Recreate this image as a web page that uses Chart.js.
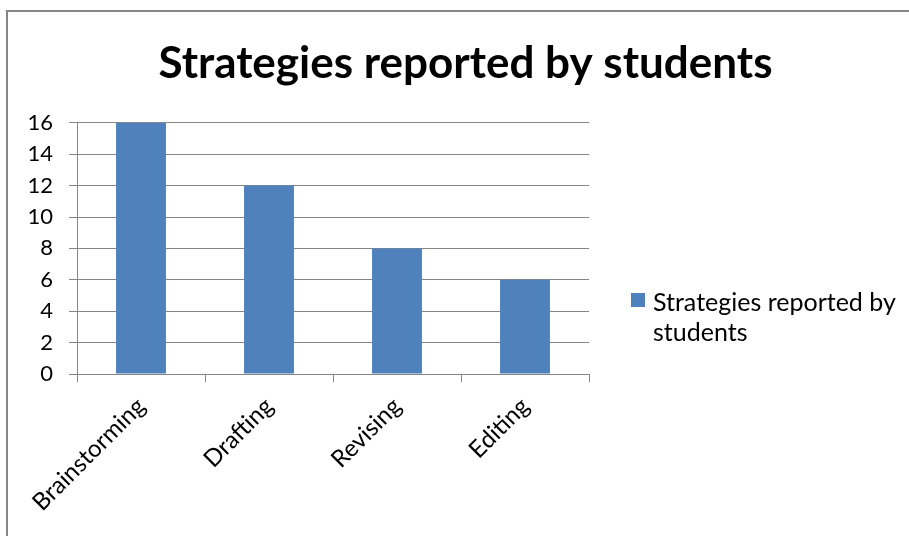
<!DOCTYPE html>
<html>
<head>
<meta charset="utf-8">
<script src="https://cdn.jsdelivr.net/npm/chart.js@4"></script>
<style>
  html, body { margin: 0; padding: 0; background: #fff; }
  #wrap { position: relative; width: 909px; height: 536px; overflow: hidden; }
  #frame { position: absolute; left: 6px; top: 10px; width: 920px; height: 540px; border: 2px solid #868686; box-sizing: border-box; }
  #chart_estrategias { position: absolute; left: 0; top: 0; }
  #legenda { position: absolute; left: 631px; top: 286px; width: 275px; font-family: Lato, sans-serif; font-size: 25px; line-height: 30px; color: #000; }
  #legenda .item { position: relative; padding-left: 22px; }
  #legenda .caixa { position: absolute; left: 0; top: 7px; width: 14px; height: 14px; }
</style>
</head>
<body>
<div id="wrap">
  <div id="frame"></div>
  <canvas id="chart_estrategias" width="909" height="536"></canvas>
  <div id="legenda"></div>
</div>
<script>
const estrategias = ["Brainstorming", "Drafting", "Revising", "Editing"];
const qtdEstrategias = [16, 12, 8, 6];
const ticksY = [0, 2, 4, 6, 8, 10, 12, 14, 16];
const titulo = "Strategies reported by students";

const canvas = document.getElementById("chart_estrategias");

Chart.defaults.color = "#000000";
Chart.defaults.font.family = "Lato";

const grafico = new Chart(canvas, {
  type: "bar",
  data: {
    labels: estrategias,
    datasets: [
      {
        label: titulo,
        data: qtdEstrategias,
        backgroundColor: "#4F81BD",
        borderWidth: 0,
        categoryPercentage: 1,
        barPercentage: 0.39,
      },
    ],
  },
  options: {
    responsive: false,
    animation: false,
    layout: {
      padding: { left: 22, right: 0, top: 0, bottom: 0 },
    },
    scales: {
      y: {
        min: 0,
        max: 16,
        afterBuildTicks: (axis) => {
          axis.ticks = ticksY.map((v) => ({ value: v }));
        },
        afterFit: (axis) => {
          axis.width = 55;
        },
        ticks: {
          font: { size: 22 },
          padding: 16,
        },
        grid: {
          color: "#868686",
          tickLength: 8,
        },
        border: { color: "#868686" },
      },
      // eixo vazio só para reservar o espaço da legenda à direita
      espacoLegenda: {
        type: "linear",
        position: "right",
        min: 0,
        max: 1,
        afterFit: (axis) => {
          axis.width = 320;
        },
        ticks: { display: false },
        grid: { display: false },
        border: { display: false },
      },
      x: {
        afterFit: (axis) => {
          axis.height = 162;
        },
        ticks: {
          font: { size: 24 },
          minRotation: 45,
          maxRotation: 45,
          padding: 10,
        },
        grid: {
          drawOnChartArea: false,
          color: "#868686",
          tickLength: 8,
        },
        border: { color: "#868686" },
      },
    },
    plugins: {
      legend: { display: false },
      tooltip: { enabled: false },
      title: {
        display: true,
        text: titulo,
        font: { size: 44, weight: "bold" },
        padding: { top: 37, bottom: 33 },
      },
    },
  },
});

// legenda em HTML para quebrar a linha como no original
const legenda = document.getElementById("legenda");
grafico.data.datasets.forEach((ds) => {
  const item = document.createElement("div");
  item.className = "item";
  const caixa = document.createElement("span");
  caixa.className = "caixa";
  caixa.style.background = ds.backgroundColor;
  item.appendChild(caixa);
  item.appendChild(document.createTextNode(ds.label));
  legenda.appendChild(item);
});
</script>
</body>
</html>
